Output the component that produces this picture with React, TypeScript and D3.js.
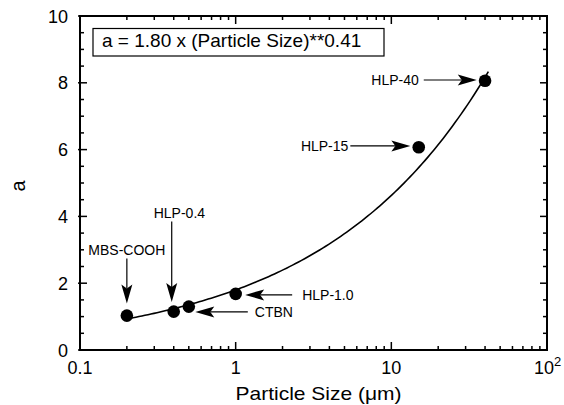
import React from 'react';
import * as d3 from 'd3';

// ---- data ----
const particleSize = [0.2, 0.4, 0.5, 1.0, 15, 40];
const aValues = [1.03, 1.15, 1.3, 1.68, 6.07, 8.06];
const sampleLabels = ['MBS-COOH', 'HLP-0.4', 'CTBN', 'HLP-1.0', 'HLP-15', 'HLP-40'];
const xTickValues = [0.1, 1, 10, 100];
const xTickLabels = ['0.1', '1', '10', '10'];
const yTickValues = [0, 2, 4, 6, 8, 10];
const yTickLabels = ['0', '2', '4', '6', '8', '10'];
const fitCoefficient = 1.8;
const fitExponent = 0.41;
const fitRange = [0.2, 42];
const formulaText = 'a = 1.80 x (Particle Size)**0.41';
const xTitle = 'Particle Size (\u03bcm)';
const yTitle = 'a';

// ---- layout (pixel offsets of annotations relative to their point) ----
const annotationLayout = [
  { tip: [0, -12], tail: [0, -57], text: [0, -61], anchor: 'middle' },
  { tip: [-2, -9.5], tail: [-2, -90], text: [-20, -94], anchor: 'start' },
  { tip: [6.5, 5.3], tail: [59, 5.3], text: [66, 10.3], anchor: 'start' },
  { tip: [9.5, 1], tail: [56.5, 1], text: [66.5, 6], anchor: 'start' },
  { tip: [-8.4, -1.3], tail: [-68.4, -1.3], text: [-70.4, 3.8], anchor: 'end' },
  { tip: [-8.3, -0.8], tail: [-61.3, -0.8], text: [-66.3, 4.2], anchor: 'end' },
];

const W = 564;
const H = 405;
const M = { left: 80, right: 547, top: 16, bottom: 350 };
const FONT = '"Liberation Sans", Arial, Helvetica, sans-serif';

function Arrow({ x1, y1, x2, y2 }: { x1: number; y1: number; x2: number; y2: number }) {
  const ang = Math.atan2(y2 - y1, x2 - x1);
  const L = 19;
  const hw = 5.5;
  const notch = 15;
  const c = Math.cos(ang);
  const s = Math.sin(ang);
  const pt = (u: number, v: number) => [x2 + u * c - v * s, y2 + u * s + v * c];
  const p = [pt(0, 0), pt(-L, hw), pt(-notch, 0), pt(-L, -hw)];
  const lineEnd = pt(-notch, 0);
  return (
    <g>
      <line x1={x1} y1={y1} x2={lineEnd[0]} y2={lineEnd[1]} stroke="#000" strokeWidth={1.2} />
      <polygon points={p.map((q) => q.join(',')).join(' ')} fill="#000" />
    </g>
  );
}

export default function App() {
  const x = d3.scaleLog().domain([0.1, 100]).range([M.left, M.right]);
  const y = d3.scaleLinear().domain([0, 10]).range([M.bottom, M.top]);

  const minorX: number[] = [];
  for (let d = 0.1; d < 100; d *= 10) {
    for (let k = 2; k <= 9; k++) minorX.push(+(d * k).toPrecision(3));
  }
  const majorXInner = [1, 10];
  const minorY = d3.range(0, 10.01, 0.5).filter((v) => v % 2 !== 0);
  const majorY = yTickValues;

  const fitX = d3.range(0, 121).map((i) => fitRange[0] * Math.pow(fitRange[1] / fitRange[0], i / 120));
  const fitLine = d3
    .line<number>()
    .x((d) => x(d))
    .y((d) => y(fitCoefficient * Math.pow(d, fitExponent)))
    .curve(d3.curveLinear)(fitX);

  return (
    <svg width={W} height={H} style={{ position: 'absolute', left: 0, top: 0, background: '#fff' }} fontFamily={FONT}>
      <rect x={0} y={0} width={W} height={H} fill="#fff" />
      {minorX.map((v, i) => (
        <g key={'mx' + i}>
          <line x1={x(v)} x2={x(v)} y1={M.bottom} y2={M.bottom - 4} stroke="#000" strokeWidth={1.5} />
          <line x1={x(v)} x2={x(v)} y1={M.top} y2={M.top + 4} stroke="#000" strokeWidth={1.5} />
        </g>
      ))}
      {majorXInner.map((v, i) => (
        <g key={'Mx' + i}>
          <line x1={x(v)} x2={x(v)} y1={M.bottom} y2={M.bottom - 8} stroke="#000" strokeWidth={1.5} />
          <line x1={x(v)} x2={x(v)} y1={M.top} y2={M.top + 8} stroke="#000" strokeWidth={1.5} />
        </g>
      ))}
      {minorY.map((v, i) => (
        <g key={'my' + i}>
          <line x1={M.left} x2={M.left + 4} y1={y(v)} y2={y(v)} stroke="#000" strokeWidth={1.5} />
          <line x1={M.right} x2={M.right - 4} y1={y(v)} y2={y(v)} stroke="#000" strokeWidth={1.5} />
        </g>
      ))}
      {majorY.map((v, i) => (
        <g key={'My' + i}>
          <line x1={M.left - 2} x2={M.left + 7} y1={y(v)} y2={y(v)} stroke="#000" strokeWidth={1.5} />
          <line x1={M.right} x2={M.right - 7} y1={y(v)} y2={y(v)} stroke="#000" strokeWidth={1.5} />
        </g>
      ))}
      <rect x={M.left} y={M.top} width={M.right - M.left} height={M.bottom - M.top} fill="none" stroke="#000" strokeWidth={2} />

      {xTickValues.map((v, i) =>
        v === 100 ? (
          <text key={'xl' + i} x={x(v) - 13} y={374} fontSize={18} textAnchor="start">
            {xTickLabels[i]}
            <tspan fontSize={13} dy={-8}>2</tspan>
          </text>
        ) : (
          <text key={'xl' + i} x={x(v)} y={374} fontSize={18} textAnchor="middle">
            {xTickLabels[i]}
          </text>
        )
      )}
      {yTickValues.map((v, i) => (
        <text key={'yl' + i} x={68} y={y(v) + 6.5} fontSize={18} textAnchor="end">
          {yTickLabels[i]}
        </text>
      ))}

      <text x={(x(0.1) + x(100)) / 2 + 5} y={400} fontSize={19} textAnchor="middle" textLength={166} lengthAdjust="spacingAndGlyphs">
        {xTitle}
      </text>
      <text transform={`translate(25,186) rotate(-90)`} fontSize={20} textAnchor="middle">
        {yTitle}
      </text>

      <rect x={93} y={28.5} width={291} height={27.5} fill="#fff" stroke="#000" strokeWidth={1.2} />
      <text x={102} y={46.7} fontSize={19}>
        {formulaText}
      </text>

      <path d={fitLine || ''} fill="none" stroke="#000" strokeWidth={1.6} />

      {particleSize.map((v, i) => (
        <circle key={'p' + i} cx={x(v)} cy={y(aValues[i])} r={6.3} fill="#000" />
      ))}

      {sampleLabels.map((lab, i) => {
        const px = x(particleSize[i]);
        const py = y(aValues[i]);
        const a = annotationLayout[i];
        return (
          <g key={'a' + i}>
            <Arrow x1={px + a.tail[0]} y1={py + a.tail[1]} x2={px + a.tip[0]} y2={py + a.tip[1]} />
            <text x={px + a.text[0]} y={py + a.text[1]} fontSize={14} textAnchor={a.anchor as any}>
              {lab}
            </text>
          </g>
        );
      })}
    </svg>
  );
}
